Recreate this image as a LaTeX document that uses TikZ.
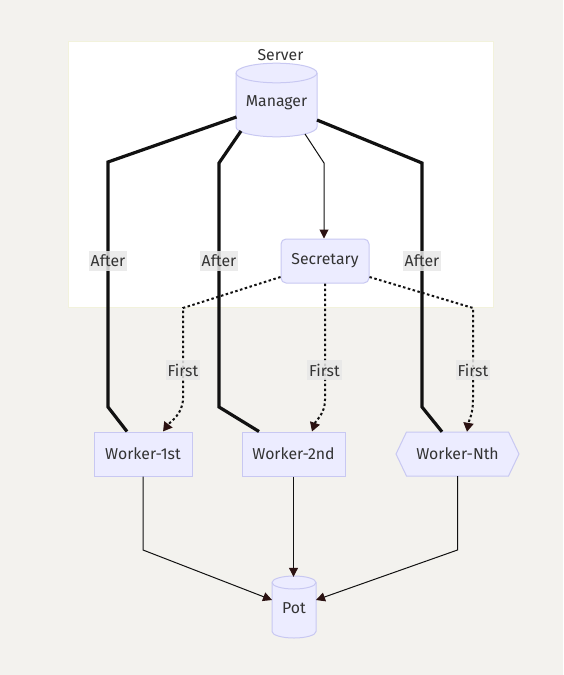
\documentclass[tikz,border=0pt]{standalone}
\usepackage{fontspec}
\setmainfont{Fira Sans}
\usetikzlibrary{arrows.meta,calc}
\definecolor{bg}{HTML}{F3F2EE}
\definecolor{nodefill}{HTML}{ECECFF}
\definecolor{nodeline}{HTML}{C8C8F2}
\definecolor{edge}{HTML}{111111}
\definecolor{tip}{HTML}{2B1212}
\definecolor{txt}{HTML}{333333}
\definecolor{lblbg}{HTML}{E8E8E8}
\definecolor{clusterline}{HTML}{F2F2DC}
\begin{document}
\begin{tikzpicture}[x=1pt,y=-1pt,
  every node/.style={font=\fontsize{15.8}{18}\selectfont, text=txt},
  box/.style={draw=nodeline, fill=nodefill, line width=1pt, inner sep=0pt},
  plain/.style={inner sep=0pt},
  thickedge/.style={draw=edge, line width=3.2pt},
  thinedge/.style={draw=edge, line width=1pt, -{Triangle[length=9pt,width=9pt,color=tip]}},
  dotedge/.style={draw=edge, line width=2pt, dash pattern=on 2.5pt off 2.5pt, -{Triangle[length=9pt,width=10pt,color=tip]}},
  lbl/.style={fill=lblbg, fill opacity=0.85, text opacity=1, inner sep=2pt, minimum height=20pt}
]
\fill[bg] (0,0) rectangle (563,675);
\useasboundingbox (0,0) rectangle (563,675);

% cluster
\node[draw=clusterline, fill=white, line width=1pt, minimum width=425pt, minimum height=266pt, inner sep=0pt] (Server) at (280.5,174) {};
\node[plain] (ServerTitle) at (280.5,55) {Server};

% Manager cylinder
\path[box] (236,73) -- (236,127) arc[start angle=180,end angle=0,x radius=40.5,y radius=9.8] -- (317,73) arc[start angle=0,end angle=-180,x radius=40.5,y radius=9.8] -- cycle;
\draw[draw=nodeline, line width=1pt] (236,73) arc[start angle=180,end angle=0,x radius=40.5,y radius=9.8];
\node[plain, minimum width=81pt, minimum height=50pt] (Man) at (276.5,103) {Manager};

% Secretary
\node[box, rounded corners=5pt, minimum width=88pt, minimum height=44pt] (Sec) at (325,261) {Secretary};

% Workers
\node[box, minimum width=98pt, minimum height=44pt] (W1) at (143,454) {Worker-1st};
\node[box, minimum width=103pt, minimum height=44pt] (W2) at (293.5,454) {Worker-2nd};
\path[box] (396,454) -- (406.5,432) -- (508.5,432) -- (519,454) -- (508.5,476) -- (406.5,476) -- cycle;
\node[plain, minimum width=123pt, minimum height=44pt] (WN) at (457.5,454) {Worker-Nth};

% Pot cylinder
\path[box] (272,582.5) -- (272,631.5) arc[start angle=180,end angle=0,x radius=22,y radius=6.5] -- (316,582.5) arc[start angle=0,end angle=-180,x radius=22,y radius=6.5] -- cycle;
\draw[draw=nodeline, line width=1pt] (272,582.5) arc[start angle=180,end angle=0,x radius=22,y radius=6.5];
\node[plain, minimum width=44pt, minimum height=62pt] (Pot) at (294,608) {Pot};

% thick "After" edges
\draw[thickedge] ($(Man)+(-40,14)$) -- (108,162) -- (108,407) -- (W1.north -| 127,0);
\draw[thickedge] ($(Man)+(-35.5,28)$) -- (219,163) -- (219,407) -- (W2.north -| 259,0);
\draw[thickedge] ($(Man)+(40.5,17)$) -- (422,163) -- (422,407) -- (WN.north -| 442,0);

% Manager -> Secretary
\draw[thinedge] ($(Man)+(28.5,31)$) -- (324,163) -- (Sec.north -| 324,0);

% dotted "First" edges
\draw[dotedge] ($(Sec.west)+(0,16)$) -- (183,308) -- (183,398) .. controls (183,414) and (171,421) .. (W1.north -| 163,0);
\draw[dotedge] (Sec.south) -- (325,400) .. controls (325,414) and (316,420) .. (W2.north -| 312,0);
\draw[dotedge] ($(Sec.east)+(0,16)$) -- (473,308) -- (473,400) .. controls (473,414) and (469,420) .. (WN.north -| 467,0);

% to Pot
\draw[thinedge] (W1.south) -- (143,550) -- ($(Pot)+(-22,-8)$);
\draw[thinedge] (W2.south) -- (W2.south |- Pot.north);
\draw[thinedge] (WN.south) -- (457.5,550) -- ($(Pot)+(22,-8)$);

% labels
\node[lbl] (LA1) at (108,261) {After};
\node[lbl] (LA2) at (219,261) {After};
\node[lbl] (LA3) at (422,261) {After};
\node[lbl] (LF1) at (183,370) {First};
\node[lbl] (LF2) at (324.5,370) {First};
\node[lbl] (LF3) at (473,370) {First};
\end{tikzpicture}
\end{document}
